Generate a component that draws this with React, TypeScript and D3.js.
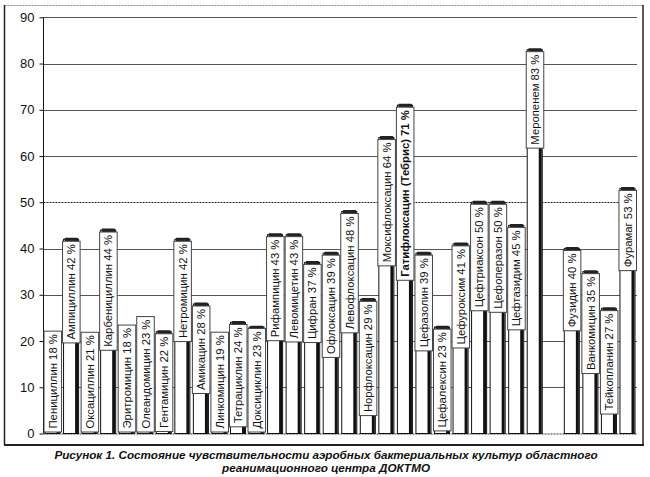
import React, { useEffect, useRef } from "react";
import * as d3 from "d3";

const names: string[] = [
  "Пенициллин", "Ампициллин", "Оксациллин", "Карбенициллин", "Эритромицин",
  "Олеандомицин", "Гентамицин", "Нетромицин", "Амикацин", "Линкомицин",
  "Тетрациклин", "Доксициклин", "Рифампицин", "Левомицетин", "Цифран",
  "Офлоксацин", "Левофлоксацин", "Норфлоксацин", "Моксифлоксацин",
  "Гатифлоксацин (Тебрис)", "Цефазолин", "Цефалексин", "Цефуроксим",
  "Цефтриаксон", "Цефоперазон", "Цефтазидим", "Меропенем",
  "Фузидин", "Ванкомицин", "Тейкопланин", "Фурамаг",
];
const values: number[] = [
  18, 42, 21, 44, 18, 23, 22, 42, 28, 19, 24, 23, 43, 43, 37, 39, 48, 29, 64, 71,
  39, 23, 41, 50, 50, 45, 83, 40, 35, 27, 53,
];
const boldNames: string[] = ["Гатифлоксацин (Тебрис)"];
const gapAfter = "Меропенем";
const yTicks: number[] = [0, 10, 20, 30, 40, 50, 60, 70, 80, 90];
const captionLines: string[] = [
  "Рисунок 1. Состояние чувствительности аэробных бактериальных культур областного",
  "реанимационного центра ДОКТМО",
];

export default function App() {
  const ref = useRef<SVGSVGElement | null>(null);

  useEffect(() => {
    const svg = d3.select(ref.current);
    svg.selectAll("*").remove();

    const W = 650, H = 477;
    const left = 43.5, right = 637, top = 17.3, bottom = 433.5;

    const domain: string[] = [];
    names.forEach((n) => {
      domain.push(n);
      if (n === gapAfter) domain.push("__gap");
    });
    const x = d3.scaleBand<string>().domain(domain).range([left, right]).padding(0);
    const y = d3.scaleLinear().domain([0, 90]).range([bottom, top]);

    // outer frame
    svg.append("rect").attr("x", 0).attr("y", 0).attr("width", W).attr("height", H).attr("fill", "white");
    svg.append("line").attr("x1", 4.5).attr("x2", 643).attr("y1", 5.5).attr("y2", 5.5)
      .attr("stroke", "#888").attr("stroke-width", 1).attr("stroke-dasharray", "2,1");
    svg.append("line").attr("x1", 4.5).attr("x2", 4.5).attr("y1", 5).attr("y2", 445)
      .attr("stroke", "#222").attr("stroke-width", 1.5);
    svg.append("line").attr("x1", 643).attr("x2", 643).attr("y1", 5).attr("y2", 445)
      .attr("stroke", "#222").attr("stroke-width", 1.5);
    svg.append("line").attr("x1", 4).attr("x2", 644).attr("y1", 445).attr("y2", 445)
      .attr("stroke", "#222").attr("stroke-width", 2);

    // gridlines
    const g = svg.append("g");
    yTicks.filter((t) => t > 0).forEach((t) => {
      g.append("line").attr("x1", left).attr("x2", right)
        .attr("y1", Math.round(y(t)) + 0.5).attr("y2", Math.round(y(t)) + 0.5)
        .attr("stroke", t === 50 ? "#222" : "#555").attr("stroke-width", 1)
        .attr("stroke-dasharray", t === 50 ? "2,1" : null);
    });
    // x axis baseline
    g.append("line").attr("x1", left).attr("x2", right).attr("y1", bottom + 0.5).attr("y2", bottom + 0.5)
      .attr("stroke", "#333").attr("stroke-width", 1).attr("stroke-dasharray", "2,1");

    // y axis
    const axis = d3.axisLeft(y).tickValues(yTicks).tickSize(4).tickPadding(5).tickFormat(d3.format("d"));
    const ag = svg.append("g").attr("transform", `translate(${left},0)`).call(axis);
    ag.select(".domain").attr("stroke", "#111").attr("d", `M0,${top}V${bottom}`);
    ag.selectAll(".tick line").attr("stroke", "#111");
    ag.selectAll(".tick text").attr("font-family", "Liberation Sans, Arial, sans-serif")
      .attr("font-size", 13).attr("fill", "#111");

    // bars
    const bw = x.bandwidth();
    const bars = svg.append("g");
    names.forEach((n, i) => {
      const v = values[i];
      const x0 = x(n) as number;
      const yt = y(v);
      bars.append("rect").attr("x", x0 + 1.5).attr("y", yt).attr("width", bw - 3.5)
        .attr("height", bottom - yt).attr("fill", "white").attr("stroke", "#111").attr("stroke-width", 1);
      bars.append("rect").attr("x", x0 + bw - 5.5).attr("y", yt).attr("width", 3)
        .attr("height", bottom - yt).attr("fill", "#111");
      bars.append("rect").attr("x", x0 + 2.5).attr("y", yt - 1.5).attr("width", bw - 5)
        .attr("height", 3.5).attr("fill", "#222").attr("rx", 1);
    });

    // labels
    const labels = svg.append("g");
    names.forEach((n, i) => {
      const v = values[i];
      const x0 = x(n) as number;
      const yt = y(v);
      const bold = boldNames.includes(n);
      const box = labels.append("rect").attr("x", x0 + 0.5).attr("width", bw - 1)
        .attr("fill", "white").attr("stroke", "#444").attr("stroke-width", 1);
      const t = labels.append("text").text(`${n} ${v} %`)
        .attr("font-family", "Liberation Sans, Arial, sans-serif")
        .attr("font-size", 11.3).attr("font-weight", bold ? "bold" : "normal").attr("fill", "#111");
      const len = (t.node() as SVGTextElement).getComputedTextLength();
      const h = len + 6.5;
      let by = yt + 2;
      if (by + h > bottom - 1.5) by = bottom - 1.5 - h;
      box.attr("y", by).attr("height", h);
      t.attr("transform", `translate(${x0 + bw / 2 + 4},${by + h - 3.5}) rotate(-90)`);
    });

    // caption
    captionLines.forEach((c, i) => {
      svg.append("text").text(c).attr("x", 326).attr("y", 459 + i * 12.5)
        .attr("text-anchor", "middle").attr("font-family", "Liberation Sans, Arial, sans-serif")
        .attr("font-size", 11.7).attr("font-weight", "bold").attr("font-style", "italic").attr("fill", "#111");
    });
  }, []);

  return (
    <svg ref={ref} width={650} height={477}
      style={{ position: "absolute", left: 0, top: 0, display: "block" }} />
  );
}
